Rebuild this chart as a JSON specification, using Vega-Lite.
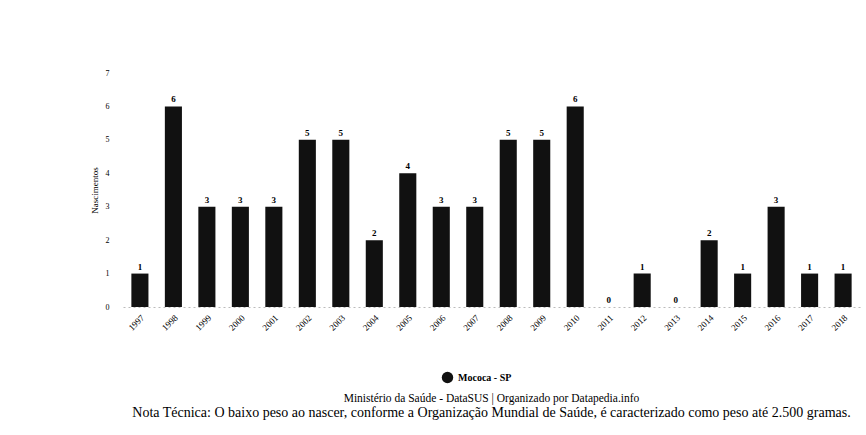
{
  "$schema": "https://vega.github.io/schema/vega-lite/v6.json",
  "width": 737,
  "height": 234,
  "autosize": "none",
  "padding": {"left": 123, "top": 73, "right": 6, "bottom": 128},
  "config": {
    "font": "Liberation Serif",
    "view": {"stroke": null}
  },
  "title": {
    "text": "Ministério da Saúde - DataSUS | Organizado por Datapedia.info",
    "subtitle": "Nota Técnica: O baixo peso ao nascer, conforme a Organização Mundial de Saúde, é caracterizado como peso até 2.500 gramas.",
    "orient": "bottom",
    "anchor": "middle",
    "font": "Liberation Serif",
    "fontSize": 11.5,
    "fontWeight": "normal",
    "color": "#000",
    "subtitleFontSize": 14,
    "subtitleColor": "#000",
    "subtitlePadding": 1,
    "offset": 9
  },
  "data": {
    "values": [
      {"ano": "1997", "n": 1},
      {"ano": "1998", "n": 6},
      {"ano": "1999", "n": 3},
      {"ano": "2000", "n": 3},
      {"ano": "2001", "n": 3},
      {"ano": "2002", "n": 5},
      {"ano": "2003", "n": 5},
      {"ano": "2004", "n": 2},
      {"ano": "2005", "n": 4},
      {"ano": "2006", "n": 3},
      {"ano": "2007", "n": 3},
      {"ano": "2008", "n": 5},
      {"ano": "2009", "n": 5},
      {"ano": "2010", "n": 6},
      {"ano": "2011", "n": 0},
      {"ano": "2012", "n": 1},
      {"ano": "2013", "n": 0},
      {"ano": "2014", "n": 2},
      {"ano": "2015", "n": 1},
      {"ano": "2016", "n": 3},
      {"ano": "2017", "n": 1},
      {"ano": "2018", "n": 1}
    ]
  },
  "encoding": {
    "x": {
      "field": "ano",
      "type": "nominal",
      "sort": null,
      "scale": {"paddingInner": 0.49, "paddingOuter": 0.25},
      "axis": {
        "title": null,
        "labelAngle": -45,
        "labelFontSize": 9,
        "labelColor": "#000",
        "ticks": false,
        "labelPadding": 6,
        "domainColor": "#bbb",
        "domainDash": [2, 3]
      }
    },
    "y": {
      "field": "n",
      "type": "quantitative",
      "scale": {"domain": [0, 7]},
      "axis": {
        "title": "Nascimentos",
        "titleFontSize": 9,
        "titleFontWeight": "normal",
        "titleColor": "#000",
        "titlePadding": 6,
        "labelFontSize": 8,
        "labelColor": "#000",
        "values": [0, 1, 2, 3, 4, 5, 6, 7],
        "ticks": false,
        "domain": false,
        "grid": false,
        "labelPadding": 14
      }
    }
  },
  "layer": [
    {
      "mark": {"type": "bar"},
      "encoding": {
        "color": {
          "datum": "Mococa - SP",
          "scale": {"range": ["#111111"]},
          "legend": {
            "orient": "none",
            "legendX": 318,
            "legendY": 298,
            "title": null,
            "symbolType": "circle",
            "symbolSize": 130,
            "labelFontSize": 10,
            "labelFontWeight": "bold",
            "labelColor": "#000"
          }
        }
      }
    },
    {
      "mark": {"type": "text", "dy": -7, "fontSize": 9, "fontWeight": "bold", "color": "#000"},
      "encoding": {"text": {"field": "n", "type": "quantitative"}}
    }
  ]
}
